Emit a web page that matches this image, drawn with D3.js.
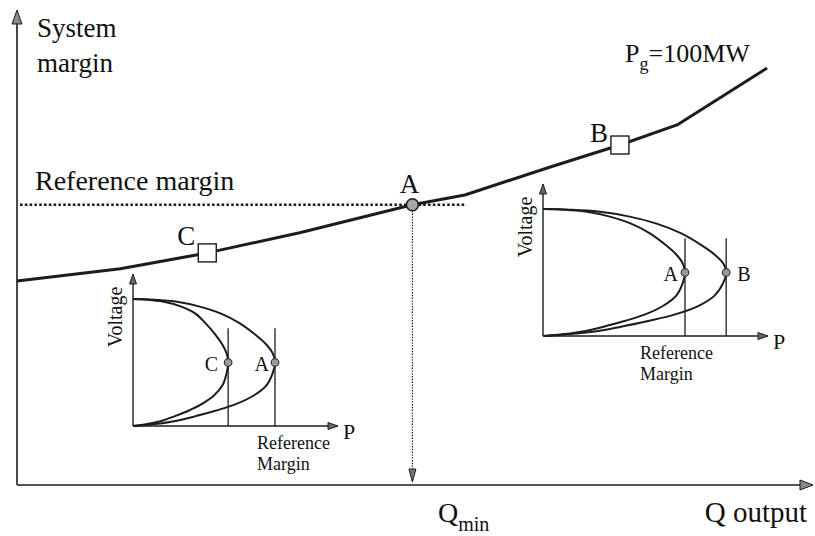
<!DOCTYPE html>
<html>
<head>
<meta charset="utf-8">
<script src="https://cdn.jsdelivr.net/npm/d3@7"></script>
<style>
  html, body { margin: 0; padding: 0; background: #fff; }
  svg { display: block; }
  text { font-family: "Liberation Serif", "Tinos", "DejaVu Serif", "Noto Serif", "Times New Roman", serif; fill: #111; }
</style>
</head>
<body>
<svg id="chart" width="815" height="536"></svg>
<script>
// System margin versus generator reactive output (Pg = 100 MW)
const qOutput      = [0, 13.2, 24.3, 36.1, 50.5, 57.2, 68.1, 77.0, 84.3, 95.8];
const systemMargin = [43.7, 46.3, 49.7, 54.0, 60.0, 62.1, 68.1, 72.8, 77.1, 89.3];
const referenceMargin = 60.0;
const qMin = 50.5;
// operating points marked on the margin curve (index into the arrays above)
const pointNames   = ["C", "A", "B"];
const pointIndex   = [2, 4, 7];

// P-V nose curves for the insets (P in % of the reference-margin load)
const pvVoltage = [1, 0.995, 0.98, 0.94, 0.885, 0.81, 0.72, 0.64, 0.57, 0.5,
                   0.42, 0.32, 0.24, 0.17, 0.12, 0.08, 0.04, 0.015, 0];
const pvCurveC  = [0, 10, 21, 34, 44, 51, 58, 63, 66, 67, 66, 63, 57, 48, 39, 30, 20, 10, 0];
const pvCurveA  = [0, 15, 30, 47, 62, 75, 86, 94, 98.5, 100, 98.5, 94, 85, 72, 58, 45, 30, 15, 0];
const pvCurveB  = [0, 19, 39, 61, 80, 97, 111, 121, 127, 129, 127, 121, 110, 93, 75, 58, 39, 19, 0];
const noseIndex = 9;
const limitLineTop = 0.77;

const svg = d3.select("#chart");
const ink = "#1c1c1c";
const serif = '"Liberation Serif", "Tinos", "DejaVu Serif", "Noto Serif", serif';

const x = d3.scaleLinear().domain([0, 100]).range([17, 800]);
const y = d3.scaleLinear().domain([0, 100]).range([485, 18]);

function arrowHead(g, tipX, tipY, angleDeg, len, half, fill) {
  const a = angleDeg * Math.PI / 180;
  const bx = tipX - len * Math.cos(a), by = tipY - len * Math.sin(a);
  const nx = -Math.sin(a) * half, ny = Math.cos(a) * half;
  g.append("path")
    .attr("d", `M${tipX},${tipY}L${bx + nx},${by + ny}L${bx - nx},${by - ny}Z`)
    .attr("fill", fill).attr("stroke", ink).attr("stroke-width", 1);
}

function label(g) {
  return g.append("text").attr("font-family", serif);
}

// main axes
const axes = svg.append("g");
axes.append("line").attr("x1", x(0)).attr("x2", 806).attr("y1", y(0)).attr("y2", y(0))
  .attr("stroke", ink).attr("stroke-width", 1.6);
arrowHead(axes, 813, y(0), 0, 13, 5, "#888");
axes.append("line").attr("x1", x(0)).attr("x2", x(0)).attr("y1", y(0)).attr("y2", 17)
  .attr("stroke", ink).attr("stroke-width", 1.6);
arrowHead(axes, x(0), 10, -90, 14, 5, "#888");

// reference margin (dotted)
svg.append("line")
  .attr("x1", 20).attr("x2", x(57.4))
  .attr("y1", y(referenceMargin)).attr("y2", y(referenceMargin))
  .attr("stroke", ink).attr("stroke-width", 2.6).attr("stroke-dasharray", "2.6,2.2");

// drop line from A to Qmin
svg.append("line")
  .attr("x1", x(qMin)).attr("x2", x(qMin))
  .attr("y1", y(referenceMargin) + 6).attr("y2", y(0) - 14)
  .attr("stroke", ink).attr("stroke-width", 1.2).attr("stroke-dasharray", "1.4,1.4");
arrowHead(svg, x(qMin), y(0) - 3, 90, 13, 3.5, "#777");

// margin curve
const marginLine = d3.line().x(d => x(d[0])).y(d => y(d[1]));
svg.append("path")
  .datum(qOutput.map((q, i) => [q, systemMargin[i]]))
  .attr("d", marginLine)
  .attr("fill", "none").attr("stroke", ink).attr("stroke-width", 3)
  .attr("stroke-linejoin", "round");

// operating points
pointNames.forEach((name, k) => {
  const i = pointIndex[k];
  const px = x(qOutput[i]), py = y(systemMargin[i]);
  if (name === "A") {
    svg.append("circle").attr("cx", px).attr("cy", py).attr("r", 6)
      .attr("fill", "#a8a8a8").attr("stroke", ink).attr("stroke-width", 1.6);
    label(svg).attr("x", px - 3).attr("y", py - 12)
      .attr("text-anchor", "middle").attr("font-size", 27).text(name);
  } else {
    svg.append("rect").attr("x", px - 9).attr("y", py - 9).attr("width", 18).attr("height", 18)
      .attr("fill", "#fff").attr("stroke", ink).attr("stroke-width", 1.4);
    label(svg).attr("x", px - 12).attr("y", name === "B" ? py - 3 : py - 8)
      .attr("text-anchor", "end").attr("font-size", 27).text(name);
  }
});

// axis and curve labels
const yTitle = label(svg).attr("font-size", 27);
yTitle.append("tspan").attr("x", 37).attr("y", 37).text("System");
yTitle.append("tspan").attr("x", 37).attr("y", 72).text("margin");

label(svg).attr("x", 35).attr("y", 190).attr("font-size", 28).text("Reference margin");

const pg = label(svg).attr("x", 625).attr("y", 62).attr("font-size", 26);
pg.append("tspan").text("P");
pg.append("tspan").attr("font-size", 18).attr("dy", 8).text("g");
pg.append("tspan").attr("dy", -8).text("=100MW");

const qm = label(svg).attr("x", 438).attr("y", 522).attr("font-size", 28);
qm.append("tspan").text("Q");
qm.append("tspan").attr("font-size", 20).attr("dy", 9).text("min");

label(svg).attr("x", 807).attr("y", 522).attr("text-anchor", "end")
  .attr("font-size", 29).text("Q output");

// P-V inset diagrams
const pScale = d3.scaleLinear().domain([0, 100]).range([0, 142]);
const vScale = d3.scaleLinear().domain([0, 1]).range([0, -127]);
const pvLine = d3.line().x(d => pScale(d[0])).y(d => vScale(d[1]))
  .curve(d3.curveCatmullRom.alpha(0.5));

const insets = [
  { ox: 133, oy: 426, axisLen: 205, textX: 124,
    curves: [ { name: "C", p: pvCurveC, side: -1, dx: 10 },
              { name: "A", p: pvCurveA, side: -1, dx: 6 } ] },
  { ox: 543, oy: 336, axisLen: 225, textX: 97,
    curves: [ { name: "A", p: pvCurveA, side: -1, dx: 7 },
              { name: "B", p: pvCurveB, side: 1, dx: 11 } ] }
];

insets.forEach(cfg => {
  const g = svg.append("g").attr("transform", `translate(${cfg.ox},${cfg.oy})`);
  // axes
  g.append("line").attr("x1", 0).attr("x2", cfg.axisLen - 8).attr("y1", 0).attr("y2", 0)
    .attr("stroke", ink).attr("stroke-width", 1.4);
  arrowHead(g, cfg.axisLen, 0, 0, 10, 3.5, "#666");
  g.append("line").attr("x1", 0).attr("x2", 0).attr("y1", 0).attr("y2", -144)
    .attr("stroke", ink).attr("stroke-width", 1.4);
  arrowHead(g, 0, -152, -90, 10, 3.5, "#666");

  cfg.curves.forEach(c => {
    const pts = c.p.map((p, i) => [p, pvVoltage[i]]);
    g.append("path").datum(pts).attr("d", pvLine)
      .attr("fill", "none").attr("stroke", ink).attr("stroke-width", 2);
    const nx = pScale(c.p[noseIndex]);
    g.append("line").attr("x1", nx).attr("x2", nx)
      .attr("y1", 0).attr("y2", vScale(limitLineTop))
      .attr("stroke", ink).attr("stroke-width", 1.3);
    const ny = vScale(pvVoltage[noseIndex]);
    g.append("circle").attr("cx", nx).attr("cy", ny).attr("r", 3.8)
      .attr("fill", "#9a9a9a").attr("stroke", "#333").attr("stroke-width", 1.2);
    label(g)
      .attr("x", nx + c.side * c.dx).attr("y", ny + 8)
      .attr("text-anchor", c.side < 0 ? "end" : "start")
      .attr("font-size", 20).text(c.name);
  });

  label(g).attr("x", cfg.axisLen + 5).attr("y", 13).attr("font-size", 22).text("P");
  label(g).attr("transform", "translate(-11,-109) rotate(-90)")
    .attr("text-anchor", "middle").attr("font-size", 20).text("Voltage");
  label(g).attr("x", cfg.textX).attr("y", 23).attr("font-size", 18).text("Reference");
  label(g).attr("x", cfg.textX).attr("y", 44).attr("font-size", 18).text("Margin");
});
</script>
</body>
</html>
